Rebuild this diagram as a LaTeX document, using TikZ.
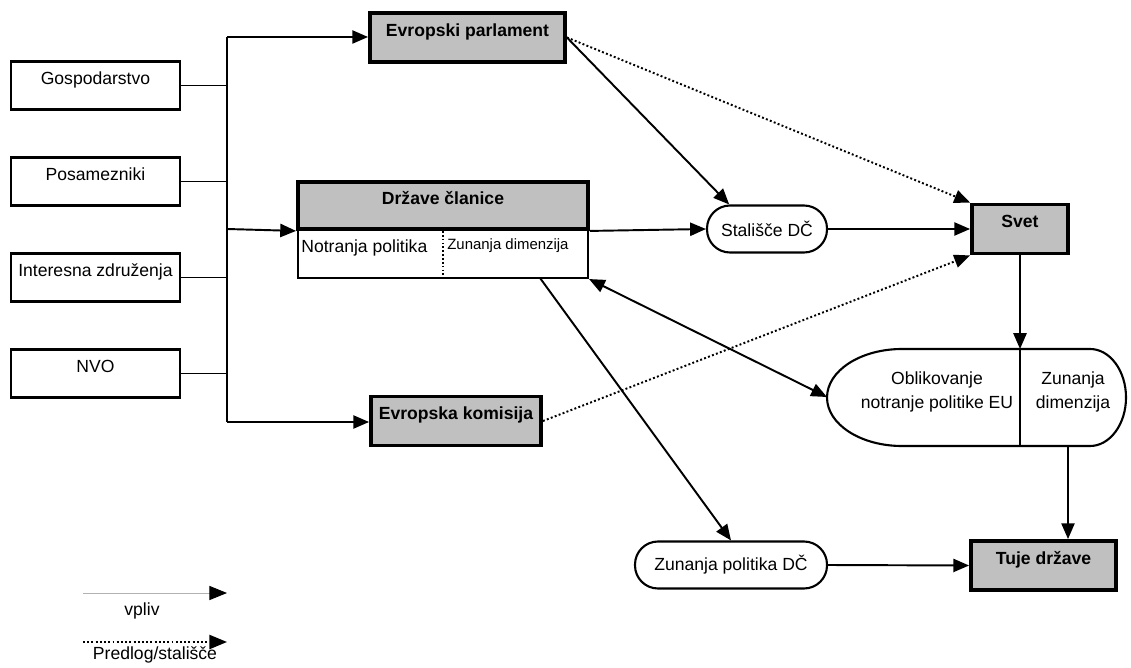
\documentclass[tikz,border=0pt]{standalone}
\usepackage{fontspec}
\setmainfont{Liberation Sans}
\usetikzlibrary{arrows.meta,calc}

\definecolor{boxgray}{RGB}{192,192,192}
\newcommand{\pxu}{0.02cm}

\begin{document}
\begin{tikzpicture}[x=0.02cm, y=-0.02cm, font=\fontsize{10}{12}\selectfont,
    source/.style={draw, line width=1.2pt, minimum width=169*\pxu, minimum height=48*\pxu, inner sep=2pt, text height=7.5pt, text depth=9pt},
    body/.style={draw, line width=2.2pt, fill=boxgray, minimum height=49*\pxu, inner sep=2pt, font=\fontsize{10}{12}\selectfont\bfseries, text height=7.5pt, text depth=9pt},
    pill/.style={draw, line width=1.2pt, rounded corners=0.46cm, minimum height=47*\pxu, inner sep=2pt},
    link/.style={line width=1.1pt},
    arrow/.style={-{Triangle[length=9pt,width=7.5pt]}, line width=1.1pt},
    dotarrow/.style={-{Triangle[length=9pt,width=7.5pt]}, line width=1.1pt, dash pattern=on 1.1pt off 1.3pt}]

    \useasboundingbox (0,0) rectangle (1131,668);

    % interest groups
    \node[source] (gosp) at (95.5,85.5) {Gospodarstvo};
    \node[source] (posam) at (95.5,181.5) {Posamezniki};
    \node[source] (inter) at (95.5,277.5) {Interesna združenja};
    \node[source] (nvo) at (95.5,373.5) {NVO};

    \coordinate (busTop) at (227,37);
    \coordinate (busMid) at (227,229);
    \coordinate (busBot) at (227,422);

    % institutions
    \node[body, minimum width=195*\pxu] (ep) at (467.5,37.5) {Evropski parlament};
    \node[draw, line width=1.2pt, minimum width=290*\pxu, minimum height=49*\pxu] (drzdol) at (443,253.5) {};
    \node[body, minimum width=290*\pxu, minimum height=47*\pxu] (drz) at (443,205.5) {Države članice};
    \node[anchor=west, inner sep=0pt] (notr) at (301,248) {Notranja politika};
    \node[anchor=west, inner sep=0pt, font=\fontsize{8.5}{10}\selectfont] (zdim) at (447,246) {Zunanja dimenzija};
    \draw[link, dash pattern=on 1pt off 1.2pt] (drz.south) -- (drzdol.south);
    \coordinate (drzOut) at (540,278);

    \node[body, minimum width=170*\pxu] (ek) at (456,421) {Evropska komisija};
    \node[pill, minimum width=120*\pxu] (stal) at (767,229) {Stališče DČ};
    \node[body, minimum width=96*\pxu] (svet) at (1020,229) {Svet};
    \node[pill, minimum width=192*\pxu] (zpd) at (731,565) {Zunanja politika DČ};
    \node[body, minimum width=145*\pxu] (tuje) at (1043.5,565.5) {Tuje države};

    % policy shaping
    \draw[line width=1.2pt] (1020,349) -- (902,349) arc[start angle=-90, end angle=-270, x radius=75, y radius=48.5]
        -- (1090,446) arc[start angle=90, end angle=-90, x radius=36, y radius=48.5] -- cycle;
    \coordinate (oblW) at (827,397);
    \coordinate (oblN) at (1020,349);
    \coordinate (oblS) at (1068,446);
    \draw[link] (oblN) -- (1020,446);
    \node[align=center, font=\fontsize{10}{14}\selectfont] (oblL) at (937,392) {Oblikovanje\\notranje politike EU};
    \node[align=center, font=\fontsize{10}{14}\selectfont] (oblR) at (1073,392) {Zunanja\\dimenzija};

    \draw[link] (busTop) -- (busBot);
    \draw[link] (gosp.east) -- (gosp.east -| busTop);
    \draw[link] (posam.east) -- (posam.east -| busTop);
    \draw[link] (inter.east) -- (inter.east -| busTop);
    \draw[link] (nvo.east) -- (nvo.east -| busTop);

    \draw[arrow] (busTop) -- (ep.west |- busTop);
    \draw[arrow] (busMid) -- (drz.south west);
    \draw[arrow] (busBot) -- (ek.west |- busBot);

    \draw[arrow] (ep.east) -- (stal.147);
    \draw[arrow] (drz.south east) -- (stal.west);
    \draw[arrow] (stal.east) -- (svet.west);
    \draw[dotarrow] (ep.east) -- (svet.north west);
    \draw[dotarrow] (ek.east) -- (svet.south west);
    \draw[arrow] (svet.south) -- (oblN);
    \draw[{Triangle[length=9pt,width=7.5pt]}-{Triangle[length=9pt,width=7.5pt]}, line width=1.1pt] (drzdol.south east) -- (oblW);
    \draw[arrow] (drzOut) -- (zpd.north);
    \draw[arrow] (oblS) -- (oblS |- tuje.north);
    \draw[arrow] (zpd.east) -- (tuje.west);

    % legend
    \coordinate (lgA1) at (83,593);
    \coordinate (lgA2) at (227,593);
    \coordinate (lgB1) at (83,642);
    \coordinate (lgB2) at (227,642);
    \draw[-{Triangle[length=10pt,width=8pt,black]}, line width=0.5pt, draw=gray!60] (lgA1) -- (lgA2);
    \draw[dotarrow, -{Triangle[length=10pt,width=8pt]}] (lgB1) -- (lgB2);
    \node (lgv) at (142,611) {vpliv};
    \node (lgp) at (155,655) {Predlog/stališče};
\end{tikzpicture}
\end{document}
